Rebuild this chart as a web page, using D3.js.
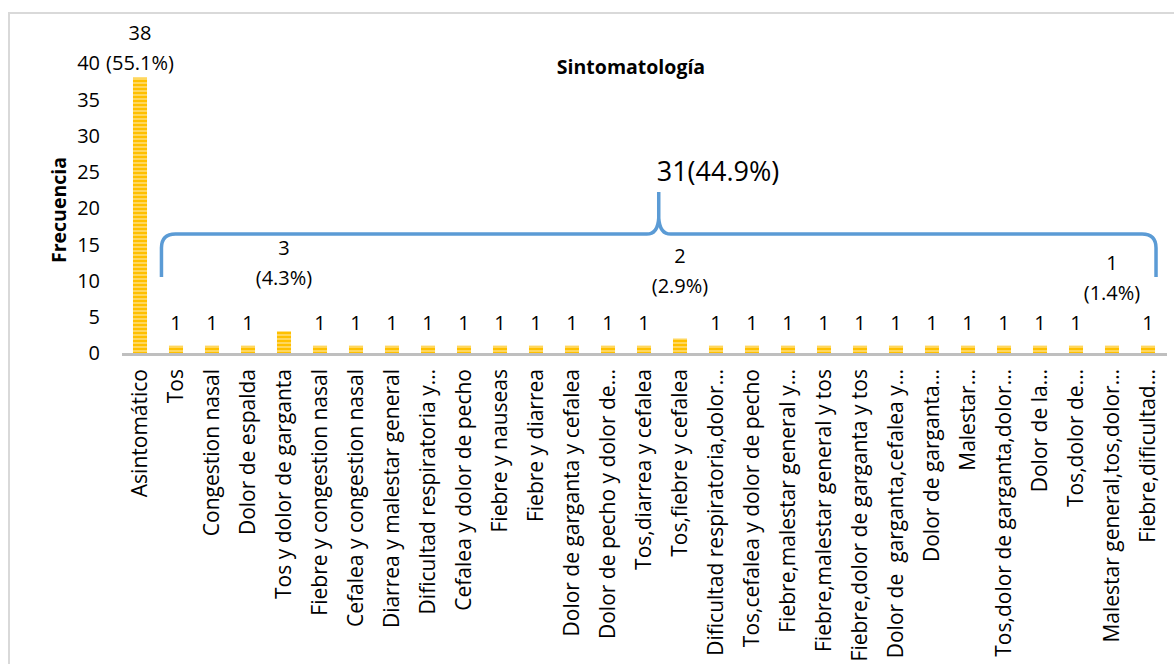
<!DOCTYPE html>
<html>
<head>
<meta charset="utf-8">
<script src="https://cdn.jsdelivr.net/npm/d3@7/dist/d3.min.js"></script>
<style>
  html, body { margin: 0; padding: 0; background: #fff; }
  svg { display: block; }
  text { font-family: "Open Sans", Lato, sans-serif; fill: #000; }
</style>
</head>
<body>
<script>
// Symptom categories (x axis) and their frequencies
const categories = [
  "Asintomático", "Tos", "Congestion nasal", "Dolor de espalda",
  "Tos y dolor de garganta", "Fiebre y congestion nasal", "Cefalea y congestion nasal",
  "Diarrea y malestar general", "Dificultad respiratoria y…", "Cefalea y dolor de pecho",
  "Fiebre y nauseas", "Fiebre y diarrea", "Dolor de garganta y cefalea",
  "Dolor de pecho y dolor de…", "Tos,diarrea y cefalea", "Tos,fiebre y cefalea",
  "Dificultad respiratoria,dolor…", "Tos,cefalea y dolor de pecho",
  "Fiebre,malestar general y…", "Fiebre,malestar general y tos",
  "Fiebre,dolor de garganta y tos", "Dolor de  garganta,cefalea y…",
  "Dolor de garganta…", "Malestar…", "Tos,dolor de garganta,dolor…",
  "Dolor de la…", "Tos,dolor de…", "Malestar general,tos,dolor…", "Fiebre,dificultad…"
];
const values = [38, 1, 1, 1, 3, 1, 1, 1, 1, 1, 1, 1, 1, 1, 1, 2, 1, 1, 1, 1, 1, 1, 1, 1, 1, 1, 1, 1, 1];
// bars whose label also carries the share of the total
const percentShown = ["Asintomático", "Tos y dolor de garganta", "Tos,fiebre y cefalea", "Malestar general,tos,dolor…"];
const yTicks = [0, 5, 10, 15, 20, 25, 30, 35, 40];

const W = 1174, H = 664;
const FONT = "'Open Sans', Lato, sans-serif";
const total = d3.sum(values);
const symptomatic = total - values[0];
const pct = v => (v / total * 100).toFixed(1) + "%";

const svg = d3.select("body").append("svg").attr("width", W).attr("height", H);

// pattern: horizontal stripes of the bar fill
const defs = svg.append("defs");
const pat = defs.append("pattern").attr("id", "stripes")
  .attr("patternUnits", "userSpaceOnUse").attr("width", 4).attr("height", 4);
pat.append("rect").attr("width", 4).attr("height", 4).attr("fill", "#FFC000");
pat.append("rect").attr("y", 2).attr("width", 4).attr("height", 2).attr("fill", "#FFD75E");

// chart frame
svg.append("rect").attr("x", 9).attr("y", 13).attr("width", W + 20).attr("height", H + 20)
  .attr("fill", "none").attr("stroke", "#d9d9d9").attr("stroke-width", 2);

const x = d3.scaleBand().domain(categories).range([122, 1166]).paddingInner(0.61).paddingOuter(0.305);
const y = d3.scaleLinear().domain([0, 40]).range([353, 63]);

// title
svg.append("text").attr("x", 631).attr("y", 67).attr("dy", "0.35em").attr("text-anchor", "middle")
  .attr("font-weight", "bold").attr("font-size", 19.5).text("Sintomatología");

// y axis (labels only)
const yAxis = d3.axisLeft(y).tickValues(yTicks).tickSize(0).tickPadding(0);
const gy = svg.append("g").attr("transform", "translate(100,0)").call(yAxis);
gy.select(".domain").remove();
gy.selectAll("text").attr("font-size", 20).attr("font-family", FONT)
  .attr("dy", "0.34em").attr("fill", "#000");

svg.append("text").attr("transform", "translate(59,210) rotate(-90)")
  .attr("text-anchor", "middle").attr("dy", "0.35em").attr("font-weight", "bold").attr("font-size", 19.5)
  .text("Frecuencia");

// bars
svg.append("g").selectAll("rect").data(categories).join("rect")
  .attr("x", d => x(d))
  .attr("y", (d, i) => y(values[i]))
  .attr("width", x.bandwidth())
  .attr("height", (d, i) => y(0) - y(values[i]))
  .attr("fill", "url(#stripes)");

// x axis line and labels
const xAxis = d3.axisBottom(x).tickSize(0).tickPadding(0);
const gx = svg.append("g").attr("transform", `translate(0,${y(0)})`).call(xAxis);
gx.select(".domain").attr("stroke", "#bfbfbf").attr("stroke-width", 3)
  .attr("d", `M122,1.5H1167`);
gx.selectAll(".tick text")
  .attr("font-size", 21).attr("font-family", FONT).attr("fill", "#000")
  .attr("transform", "rotate(-90)")
  .attr("text-anchor", "end")
  .attr("x", -16).attr("y", 0).attr("dy", "0.35em")
  .style("white-space", "pre");

// value labels
const labels = svg.append("g").attr("font-size", 20).attr("text-anchor", "middle");
categories.forEach((c, i) => {
  const cx = x(c) + x.bandwidth() / 2;
  const v = values[i];
  if (percentShown.includes(c)) {
    const py = Math.max(y(v) - 53, 63);
    labels.append("text").attr("x", cx).attr("y", py - 30).attr("dy", "0.35em").text(v);
    labels.append("text").attr("x", cx).attr("y", py).attr("dy", "0.35em").text("(" + pct(v) + ")");
  } else {
    labels.append("text").attr("x", cx).attr("y", y(v) - 23).attr("dy", "0.35em").text(v);
  }
});

// brace grouping all symptomatic categories
const bx0 = x(categories[1]) - x.step() * 0.195 - 0.5;
const bx1 = x(categories[categories.length - 1]) + x.bandwidth() + 1;
const bm = (bx0 + bx1) / 2;
const yl = y(16.4), yb = y(10.5), yt = y(22.2);
const r = 14;
const brace = d3.path();
brace.moveTo(bx0, yb);
brace.lineTo(bx0, yl + r);
brace.quadraticCurveTo(bx0, yl, bx0 + r, yl);
brace.lineTo(bm - 12, yl);
brace.quadraticCurveTo(bm - 1, yl, bm, yl - 16);
brace.lineTo(bm, yt);
brace.moveTo(bm, yl - 16);
brace.quadraticCurveTo(bm + 1, yl, bm + 12, yl);
brace.lineTo(bx1 - r, yl);
brace.quadraticCurveTo(bx1, yl, bx1, yl + r);
brace.lineTo(bx1, yb);
svg.append("path").attr("d", brace.toString()).attr("fill", "none")
  .attr("stroke", "#5B9BD5").attr("stroke-width", 3.5).attr("stroke-linecap", "butt");

svg.append("text").attr("x", bm - 2).attr("y", 172).attr("dy", "0.35em")
  .attr("font-size", 27).text(`${symptomatic}(${pct(symptomatic)})`);
</script>
</body>
</html>
